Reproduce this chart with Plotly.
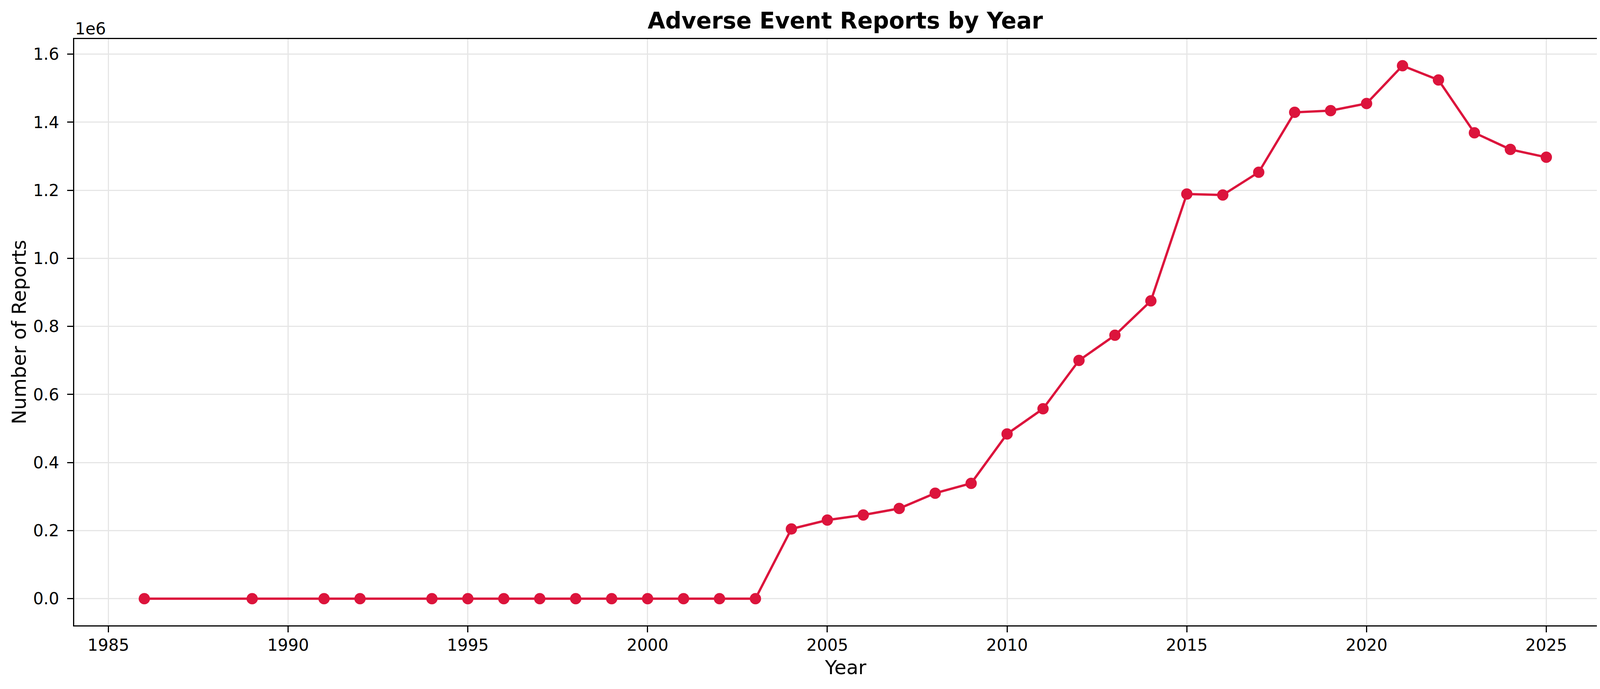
import plotly.graph_objects as go

# yearly report counts
years = [1986, 1989, 1991, 1992, 1994, 1995, 1996, 1997, 1998, 1999, 2000, 2001, 2002, 2003,
         2004, 2005, 2006, 2007, 2008, 2009, 2010, 2011, 2012, 2013, 2014,
         2015, 2016, 2017, 2018, 2019, 2020, 2021, 2022, 2023, 2024, 2025]
reports = [1, 1, 1, 1, 2, 3, 3, 5, 6, 8, 10, 15, 25, 120,
           205000, 231000, 246000, 265000, 310000, 339000, 484000, 558000, 700000, 774000, 875000,
           1189000, 1186000, 1253000, 1429000, 1434000, 1455000, 1566000, 1524000, 1369000, 1320000, 1297000]

x_ticks = [1985, 1990, 1995, 2000, 2005, 2010, 2015, 2020, 2025]
y_ticks = [0, 200000, 400000, 600000, 800000, 1000000, 1200000, 1400000, 1600000]
y_tick_labels = ["0.0", "0.2", "0.4", "0.6", "0.8", "1.0", "1.2", "1.4", "1.6"]

FONT = "DejaVu Sans"
LINE_COLOR = "#DC143C"

# the page body has an 8px margin, so the figure is 16px smaller than the window
W, H, BODY = 4164, 1764, 8

# matplotlib-like 5% margins around the data
x_pad = (max(years) - min(years)) * 0.05
y_pad = (max(reports) - min(reports)) * 0.05

fig = go.Figure()
fig.add_trace(go.Scatter(
    x=years, y=reports, mode="lines+markers",
    line=dict(color=LINE_COLOR, width=6),
    marker=dict(color=LINE_COLOR, size=29),
    showlegend=False,
))

axis_common = dict(
    showline=True, linecolor="black", linewidth=3.3, mirror=True,
    ticks="outside", ticklen=15, tickwidth=3.3, tickcolor="black",
    showgrid=True, gridcolor="#e6e6e6", gridwidth=3,
    zeroline=False,
    tickfont=dict(family=FONT, size=42, color="black"),
)

fig.update_xaxes(range=[min(years) - x_pad, max(years) + x_pad],
                 tickvals=x_ticks, ticklabelstandoff=-4, **axis_common)
fig.update_yaxes(range=[min(reports) - y_pad, max(reports) + y_pad],
                 tickvals=y_ticks, ticktext=y_tick_labels, ticklabelstandoff=12, **axis_common)

fig.update_layout(
    width=W - 2 * BODY, height=H - 2 * BODY,
    margin=dict(l=190 - BODY, r=26 - BODY, t=100 - BODY, b=163 - BODY),
    paper_bgcolor="white", plot_bgcolor="white",
    title=dict(text="<b>Adverse Event Reports by Year</b>", x=0.5, xref="paper",
               y=1 - (53 - BODY) / (H - 2 * BODY), yanchor="middle",
               font=dict(family=FONT, size=58, color="black")),
    font=dict(family=FONT, color="black"),
)

# axis titles and the offset label placed like matplotlib
fig.add_annotation(text="Year", xref="paper", yref="paper", x=0.5, y=0,
                   yshift=-108, yanchor="middle", showarrow=False,
                   font=dict(family=FONT, size=50, color="black"))
fig.add_annotation(text="Number of Reports", xref="paper", yref="paper", x=0, y=0.5,
                   xshift=-142, xanchor="center", textangle=-90, showarrow=False,
                   font=dict(family=FONT, size=50, color="black"))
fig.add_annotation(text="1e6", xref="paper", yref="paper", x=0, y=1,
                   xanchor="left", yanchor="middle", yshift=27, showarrow=False,
                   font=dict(family=FONT, size=42, color="black"))

fig.write_html("out.html")
